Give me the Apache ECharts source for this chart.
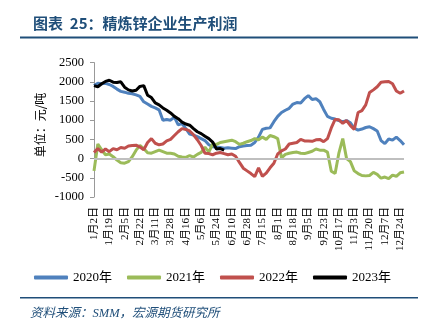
<!DOCTYPE html>
<html>
<head>
<meta charset="utf-8">
<script src="https://cdn.jsdelivr.net/npm/echarts@6/dist/echarts.min.js"></script>
<style>
html,body{margin:0;padding:0;background:#fff;}
#chart{width:437px;height:326px;}
</style>
</head>
<body>
<div id="chart"></div>
<script>
// Tick labels shown on the x axis (every 4th sampled trading day)
const tickLabels = ['1月2日','1月19日','2月5日','2月22日','3月11日','3月28日','4月16日','5月6日','5月24日','6月10日','6月28日','7月15日','8月1日','8月18日','9月5日','9月23日','10月17日','11月3日','11月20日','12月7日','12月24日'];
const seriesNames = ['2020年','2021年','2022年','2023年'];
// Profit values (元/吨), sampled about every 3 trading days
const y2020 = [1900,1960,1950,1960,1930,1880,1810,1750,1730,1700,
  1690,1660,1620,1480,1420,1360,1320,1270,1000,1020,
  1000,1080,880,910,780,640,610,570,520,470,
  360,310,300,290,270,280,270,260,310,330,340,
  350,420,560,760,790,800,960,1100,1200,1260,
  1310,1420,1460,1450,1560,1640,1540,1560,1480,1280,
  1100,1050,1030,990,960,990,930,790,740,770,
  810,830,780,720,470,390,510,480,560,470,360];
const y2021 = [-320,380,230,100,120,50,-40,-110,-120,-80,
  50,220,340,260,150,140,180,220,180,140,
  140,120,60,40,30,80,40,110,160,300,
  170,380,370,420,440,460,480,440,370,400,440,
  470,520,490,560,500,600,570,520,20,110,
  140,160,170,140,130,160,190,250,220,220,
  170,-330,-390,150,520,0,-80,-320,-390,-440,
  -450,-440,-360,-410,-510,-480,-520,-430,-460,-370,-350];
const y2022 = [160,260,170,250,180,260,230,290,270,330,
  340,350,300,230,420,520,400,360,380,460,
  500,600,700,780,760,720,620,490,340,140,
  130,100,140,160,130,100,120,60,-100,-250,-320,
  -390,-470,-240,-460,-380,-240,-120,120,200,250,
  380,400,420,500,460,460,450,490,500,440,
  520,800,1020,1010,920,990,860,760,1200,1250,
  1400,1720,1790,1870,1990,2000,2010,1950,1760,1700,1760];
const y2023 = [1900,1870,1950,2010,2040,1990,1980,2000,1860,1790,
  1760,1780,1880,1900,1650,1590,1450,1400,1320,1260,
  1190,1100,1040,950,900,870,780,700,650,580,
  520,430,250,260,220];
const yTicks = {min:-1000, max:2500, interval:500};
const colors = ['#4F81BD','#9BBB59','#C0504D','#000000'];

const N = y2020.length;
const categories = [];
for (let i = 0; i < N; i++) categories.push(i % 4 === 0 && tickLabels[i/4] ? tickLabels[i/4] : '');

const serif = "'Times New Roman','Liberation Serif','Noto Sans CJK SC',serif";
const chart = echarts.init(document.getElementById('chart'));
const dataList = [y2020, y2021, y2022, y2023];
const series = [{
  type:'line', name:'zero', data:[], z:1, silent:true,
  markLine:{silent:true, symbol:'none', label:{show:false},
    lineStyle:{color:'#BFBFBF', width:2, type:'solid'},
    data:[{yAxis:0}]}
}];
dataList.forEach((d,k)=>{
  series.push({type:'line', name:seriesNames[k], data:d, showSymbol:false, symbol:'none',
    z:2+k, lineStyle:{width:3, color:colors[k]}, itemStyle:{color:colors[k]}, animation:false});
});
chart.setOption({
  animation:false,
  grid:{left:94, right:33, top:62.6, bottom:129, containLabel:false},
  xAxis:{type:'category', data:categories, boundaryGap:false,
    axisLine:{show:false}, axisTick:{show:false},
    axisLabel:{interval:3, rotate:90, margin:10, fontSize:11, color:'#000', fontFamily:serif}},
  yAxis:{type:'value', min:yTicks.min, max:yTicks.max, interval:yTicks.interval,
    axisLine:{show:true, lineStyle:{color:'#999999', width:1}},
    axisTick:{show:true, inside:false, length:4, lineStyle:{color:'#999999'}},
    splitLine:{show:false},
    axisLabel:{margin:10, fontSize:12.5, color:'#000', fontFamily:serif, formatter:v=>String(v)}},
  legend:{data:seriesNames, left:29, top:266, itemWidth:34, itemHeight:4, itemGap:15,
    icon:'roundRect',
    textStyle:{fontSize:13, color:'#000', fontFamily:serif}},
  graphic:[
    {type:'text', left:33, top:16, style:{text:'图表  25：精炼锌企业生产利润',
      font:"bold 15px 'Noto Sans CJK SC'", fill:'#1F4E79'}},
    {type:'rect', shape:{x:20, y:36.5, width:398, height:2}, style:{fill:'#1F4E79'}},
    {type:'text', x:40, y:125, rotation:Math.PI/2,
      style:{text:'单位：元/吨', font:"12px 'Noto Sans CJK SC'", fill:'#000', align:'center', verticalAlign:'middle'}},
    {type:'rect', shape:{x:20, y:297, width:398, height:1.5}, style:{fill:'#1F4E79'}},
    {type:'text', left:30, top:307, style:{text:'资料来源：SMM，宏源期货研究所',
      font:"italic 12.5px 'Times New Roman','Liberation Serif','Noto Sans CJK SC'", fill:'#1F4E79'}}
  ],
  series:series
});
</script>
</body>
</html>
